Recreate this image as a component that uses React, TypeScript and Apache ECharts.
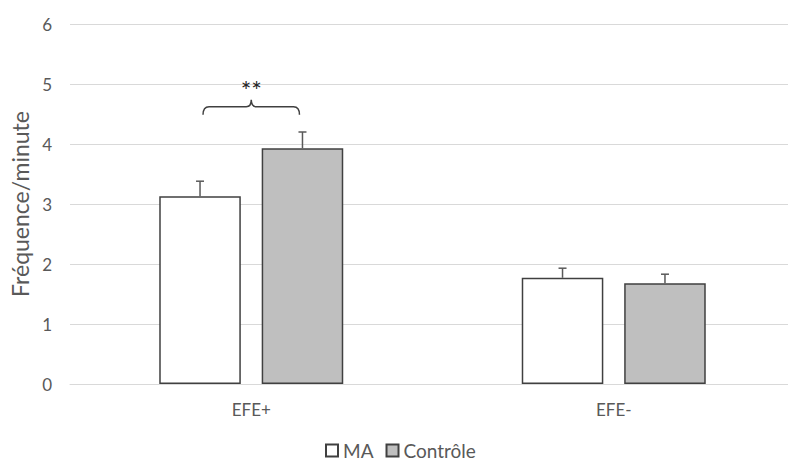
import React, { useEffect, useRef } from "react";
import * as echarts from "echarts";

const categories = ["EFE+", "EFE-"];
const maValues = [3.13, 1.77];
const maErrors = [0.25, 0.16];
const controleValues = [3.93, 1.68];
const controleErrors = [0.27, 0.15];
const seriesNames = ["MA", "Contrôle"];
const braceLevel = 4.62;
const starsLevel = 4.97;
const starsText = "**";

export default function App() {
  const ref = useRef<HTMLDivElement>(null);
  useEffect(() => {
    if (!ref.current) return;
    const chart = echarts.init(ref.current, null, { renderer: "svg" });
    const barRatio = 0.225;
    const gapRatio = 0.256;
    const offsetFor = (band: number, sIdx: number) => {
      const bw = band * barRatio;
      const off = (bw + bw * gapRatio) / 2;
      return sIdx === 0 ? -off : off;
    };
    const errData = (vals: number[], errs: number[]) => vals.map((v, i) => [i, v, v + errs[i]]);
    const errRender = (sIdx: number) => (params: any, api: any) => {
      const x = api.value(0);
      const lo = api.coord([x, api.value(1)]);
      const hi = api.coord([x, api.value(2)]);
      const band = api.size([1, 0])[0];
      const cx = lo[0] + offsetFor(band, sIdx);
      const cap = 4;
      return {
        type: "group",
        children: [
          { type: "line", shape: { x1: cx, y1: lo[1], x2: cx, y2: hi[1] }, style: { stroke: "#595959", lineWidth: 1.5 } },
          { type: "line", shape: { x1: cx - cap, y1: hi[1], x2: cx + cap, y2: hi[1] }, style: { stroke: "#595959", lineWidth: 1.5 } },
        ],
      };
    };
    chart.setOption({
      animation: false,
      grid: { left: 67, top: 24, width: 728, height: 360 },
      legend: {
        top: 436,
        left: 320,
        padding: 5,
        itemWidth: 12,
        itemHeight: 12,
        itemGap: 12,
        icon: "rect",
        data: seriesNames,
        textStyle: { color: "#595959", fontSize: 19, fontFamily: "Lato" },
      },
      xAxis: {
        type: "category",
        data: categories,
        axisTick: { show: false },
        axisLine: { lineStyle: { color: "#d9d9d9", width: 1 } },
        axisLabel: { color: "#595959", fontSize: 17, fontFamily: "Lato", margin: 17 },
      },
      yAxis: {
        type: "value",
        min: 0,
        max: 6,
        interval: 1,
        name: "Fréquence/minute",
        nameLocation: "middle",
        nameGap: 39,
        nameTextStyle: { color: "#595959", fontSize: 23, fontFamily: "Lato" },
        axisLabel: { color: "#595959", fontSize: 17, fontFamily: "Lato", margin: 18 },
        splitLine: { lineStyle: { color: "#d9d9d9" } },
      },
      series: [
        {
          name: seriesNames[0],
          type: "bar",
          data: maValues,
          barWidth: "22.5%",
          barGap: "25.6%",
          itemStyle: { color: "#ffffff", borderColor: "#404040", borderWidth: 1.5 },
        },
        {
          name: seriesNames[1],
          type: "bar",
          data: controleValues,
          barWidth: "22.5%",
          barGap: "25.6%",
          itemStyle: { color: "#bfbfbf", borderColor: "#404040", borderWidth: 1.5 },
        },
        {
          type: "custom",
          renderItem: errRender(0),
          data: errData(maValues, maErrors),
          z: 5,
          silent: true,
        },
        {
          type: "custom",
          renderItem: errRender(1),
          data: errData(controleValues, controleErrors),
          z: 5,
          silent: true,
        },
        {
          type: "custom",
          z: 6,
          silent: true,
          data: [[0, braceLevel, starsLevel]],
          renderItem: (params: any, api: any) => {
            const x = api.value(0);
            const p = api.coord([x, api.value(1)]);
            const s = api.coord([x, api.value(2)]);
            const band = api.size([1, 0])[0];
            const x1 = p[0] + offsetFor(band, 0) + 3;
            const x2 = p[0] + offsetFor(band, 1) - 3;
            const cx = p[0];
            const y = p[1];
            const d = `M ${x1} ${y + 8} Q ${x1} ${y} ${x1 + 6} ${y} L ${cx - 5} ${y} Q ${cx} ${y} ${cx} ${y - 7} Q ${cx} ${y} ${cx + 5} ${y} L ${x2 - 6} ${y} Q ${x2} ${y} ${x2} ${y + 8}`;
            return {
              type: "group",
              children: [
                { type: "path", shape: { pathData: d }, style: { stroke: "#404040", lineWidth: 1.5, fill: null } },
                {
                  type: "text",
                  x: cx,
                  y: s[1] + 4,
                  style: { text: starsText, fill: "#262626", fontSize: 25, fontFamily: "Lato", align: "center", verticalAlign: "middle" },
                },
              ],
            };
          },
        },
      ],
    });
    return () => chart.dispose();
  }, []);
  return (
    <div style={{ position: "fixed", left: 0, top: 0, width: 788, height: 461, overflow: "hidden", background: "#ffffff" }}>
      <div ref={ref} style={{ width: 830, height: 461 }} />
    </div>
  );
}
